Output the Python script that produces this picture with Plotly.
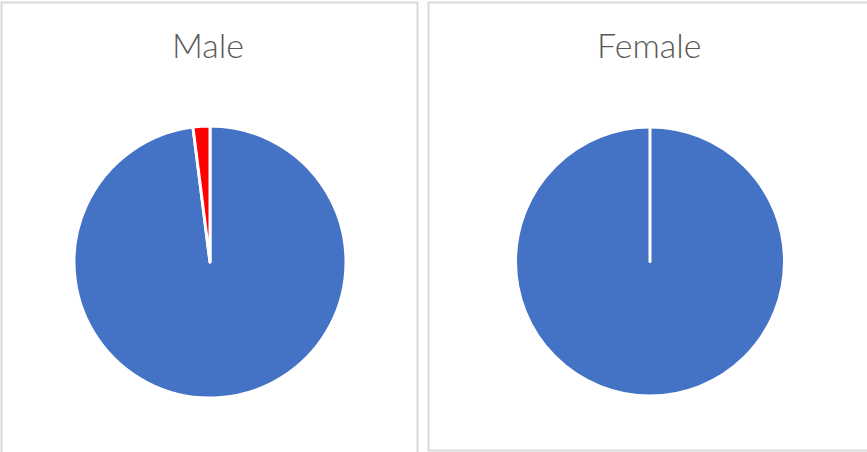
import plotly.graph_objects as go

W, H = 867, 452
labels = ["A", "B"]
male_values = [98, 2]
female_values = [100, 0]
colors = ["#4472C4", "#FF0000"]
titles = ["Male", "Female"]

def px(x, y):
    return x / W, (H - y) / H

def px_domain(cx, cy, r):
    x0, y0 = px(cx - r, cy + r)
    x1, y1 = px(cx + r, cy - r)
    return dict(x=[x0, x1], y=[y0, y1])

fig = go.Figure()
fig.add_trace(go.Pie(labels=labels, values=male_values, sort=False, direction="clockwise",
                     rotation=0, marker=dict(colors=colors, line=dict(color="white", width=3)),
                     textinfo="none", hoverinfo="label+value", showlegend=False,
                     domain=px_domain(210, 262, 136)))
fig.add_trace(go.Pie(labels=labels, values=female_values, sort=False, direction="clockwise",
                     rotation=0, marker=dict(colors=colors, line=dict(color="white", width=3)),
                     textinfo="none", hoverinfo="label+value", showlegend=False,
                     domain=px_domain(650, 261.5, 134.5)))

a = px(1.5, 470); b = px(417.5, 2.5)
c = px(428.5, 450.5); d = px(920, 2.5)
shapes = [
    dict(type="rect", xref="paper", yref="paper", x0=a[0], y0=a[1], x1=b[0], y1=b[1],
         line=dict(color="#D9D9D9", width=2), fillcolor="rgba(0,0,0,0)"),
    dict(type="rect", xref="paper", yref="paper", x0=c[0], y0=c[1], x1=d[0], y1=d[1],
         line=dict(color="#D9D9D9", width=2), fillcolor="rgba(0,0,0,0)"),
]
t1 = px(208, 44); t2 = px(649.5, 44)
annotations = [
    dict(text=titles[0], x=t1[0], y=t1[1], xref="paper", yref="paper", showarrow=False,
         font=dict(family="Lato", size=34, color="#595959", weight=300), xanchor="center", yanchor="middle"),
    dict(text=titles[1], x=t2[0], y=t2[1], xref="paper", yref="paper", showarrow=False,
         font=dict(family="Lato", size=34, color="#595959", weight=300), xanchor="center", yanchor="middle"),
]
fig.update_layout(width=W, height=H, margin=dict(l=0, r=0, t=0, b=0),
                  paper_bgcolor="white", plot_bgcolor="white",
                  shapes=shapes, annotations=annotations)
fig.write_html("out.html", config={"displayModeBar": False},
               post_script="document.body.style.margin='0';")
